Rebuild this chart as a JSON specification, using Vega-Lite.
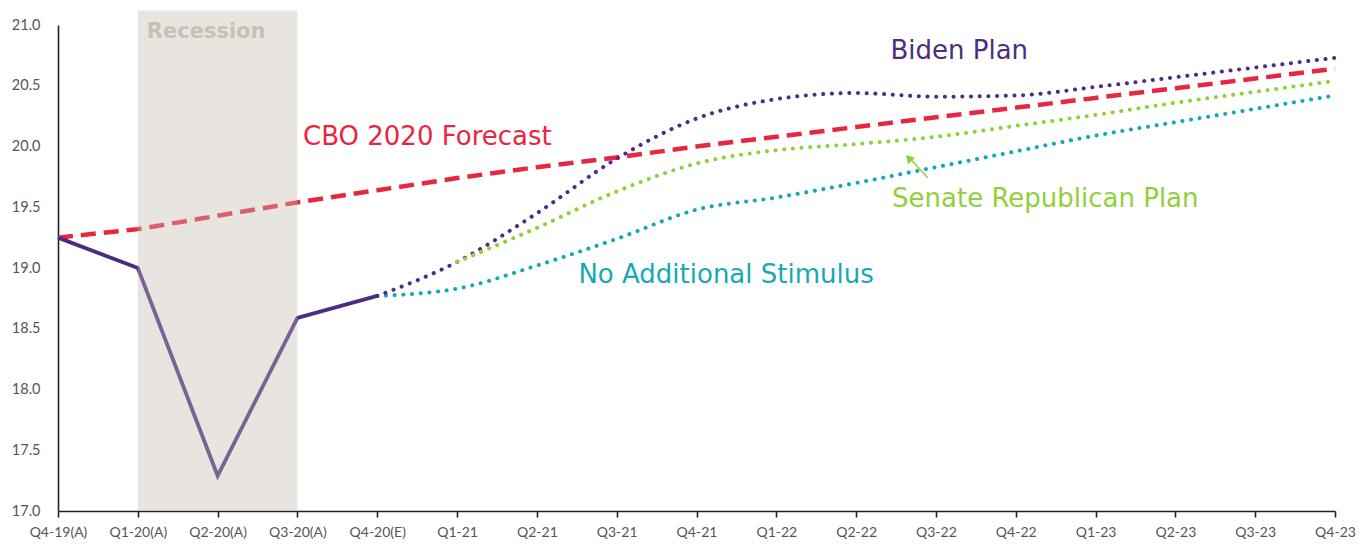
{
  "$schema": "https://vega.github.io/schema/vega-lite/v6.json",
  "width": 1277,
  "height": 486,
  "autosize": {"type": "none"},
  "padding": {"left": 58, "top": 25, "right": 36, "bottom": 33},
  "background": "white",
  "config": {"view": {"stroke": null}, "font": "Lato"},
  "datasets": {
    "series": [
      {"series": "CBO 2020 Forecast", "i": 0, "v": 19.25},
      {"series": "CBO 2020 Forecast", "i": 1, "v": 19.32},
      {"series": "CBO 2020 Forecast", "i": 2, "v": 19.43},
      {"series": "CBO 2020 Forecast", "i": 3, "v": 19.54},
      {"series": "CBO 2020 Forecast", "i": 4, "v": 19.64},
      {"series": "CBO 2020 Forecast", "i": 5, "v": 19.74},
      {"series": "CBO 2020 Forecast", "i": 6, "v": 19.83},
      {"series": "CBO 2020 Forecast", "i": 7, "v": 19.91},
      {"series": "CBO 2020 Forecast", "i": 8, "v": 20.0},
      {"series": "CBO 2020 Forecast", "i": 9, "v": 20.08},
      {"series": "CBO 2020 Forecast", "i": 10, "v": 20.16},
      {"series": "CBO 2020 Forecast", "i": 11, "v": 20.24},
      {"series": "CBO 2020 Forecast", "i": 12, "v": 20.32},
      {"series": "CBO 2020 Forecast", "i": 13, "v": 20.40},
      {"series": "CBO 2020 Forecast", "i": 14, "v": 20.48},
      {"series": "CBO 2020 Forecast", "i": 15, "v": 20.56},
      {"series": "CBO 2020 Forecast", "i": 16, "v": 20.64},
      {"series": "Actual", "i": 0, "v": 19.25},
      {"series": "Actual", "i": 1, "v": 19.0},
      {"series": "Actual", "i": 2, "v": 17.29},
      {"series": "Actual", "i": 3, "v": 18.59},
      {"series": "Actual", "i": 4, "v": 18.77},
      {"series": "No Additional Stimulus", "i": 4, "v": 18.77},
      {"series": "No Additional Stimulus", "i": 5, "v": 18.83},
      {"series": "No Additional Stimulus", "i": 6, "v": 19.02},
      {"series": "No Additional Stimulus", "i": 7, "v": 19.24},
      {"series": "No Additional Stimulus", "i": 8, "v": 19.48},
      {"series": "No Additional Stimulus", "i": 9, "v": 19.58},
      {"series": "No Additional Stimulus", "i": 10, "v": 19.70},
      {"series": "No Additional Stimulus", "i": 11, "v": 19.83},
      {"series": "No Additional Stimulus", "i": 12, "v": 19.96},
      {"series": "No Additional Stimulus", "i": 13, "v": 20.09},
      {"series": "No Additional Stimulus", "i": 14, "v": 20.20},
      {"series": "No Additional Stimulus", "i": 15, "v": 20.31},
      {"series": "No Additional Stimulus", "i": 16, "v": 20.42},
      {"series": "Biden Plan", "i": 4, "v": 18.77},
      {"series": "Biden Plan", "i": 5, "v": 19.05},
      {"series": "Biden Plan", "i": 6, "v": 19.45},
      {"series": "Biden Plan", "i": 7, "v": 19.90},
      {"series": "Biden Plan", "i": 8, "v": 20.23},
      {"series": "Biden Plan", "i": 9, "v": 20.39},
      {"series": "Biden Plan", "i": 10, "v": 20.44},
      {"series": "Biden Plan", "i": 11, "v": 20.41},
      {"series": "Biden Plan", "i": 12, "v": 20.42},
      {"series": "Biden Plan", "i": 13, "v": 20.49},
      {"series": "Biden Plan", "i": 14, "v": 20.57},
      {"series": "Biden Plan", "i": 15, "v": 20.65},
      {"series": "Biden Plan", "i": 16, "v": 20.73},
      {"series": "Senate Republican Plan", "i": 5, "v": 19.05},
      {"series": "Senate Republican Plan", "i": 6, "v": 19.33},
      {"series": "Senate Republican Plan", "i": 7, "v": 19.63},
      {"series": "Senate Republican Plan", "i": 8, "v": 19.86},
      {"series": "Senate Republican Plan", "i": 9, "v": 19.97},
      {"series": "Senate Republican Plan", "i": 10, "v": 20.02},
      {"series": "Senate Republican Plan", "i": 11, "v": 20.08},
      {"series": "Senate Republican Plan", "i": 12, "v": 20.17},
      {"series": "Senate Republican Plan", "i": 13, "v": 20.26},
      {"series": "Senate Republican Plan", "i": 14, "v": 20.36},
      {"series": "Senate Republican Plan", "i": 15, "v": 20.45},
      {"series": "Senate Republican Plan", "i": 16, "v": 20.54}
    ],
    "labels": [
      {"series": "Biden Plan", "i": 10.43, "v": 20.79},
      {"series": "CBO 2020 Forecast", "i": 3.07, "v": 20.08},
      {"series": "Senate Republican Plan", "i": 10.45, "v": 19.57},
      {"series": "No Additional Stimulus", "i": 6.52, "v": 18.94}
    ]
  },
  "encoding": {
    "x": {
      "field": "i", "type": "quantitative",
      "scale": {"domain": [0, 16], "nice": false, "zero": false},
      "axis": {
        "title": null, "grid": false,
        "values": [0,1,2,3,4,5,6,7,8,9,10,11,12,13,14,15,16],
        "labelExpr": "['Q4-19(A)','Q1-20(A)','Q2-20(A)','Q3-20(A)','Q4-20(E)','Q1-21','Q2-21','Q3-21','Q4-21','Q1-22','Q2-22','Q3-22','Q4-22','Q1-23','Q2-23','Q3-23','Q4-23'][datum.value]",
        "domainColor": "#222", "domainWidth": 1.6,
        "tickColor": "#222", "tickWidth": 1.6, "tickSize": 6,
        "labelColor": "#555", "labelFontSize": 14, "labelPadding": 8,
        "labelFont": "Lato", "labelFlush": false, "labelOverlap": false
      }
    },
    "y": {
      "field": "v", "type": "quantitative",
      "scale": {"domain": [17, 21], "nice": false, "zero": false},
      "axis": {
        "title": null, "grid": false,
        "values": [17, 17.5, 18, 18.5, 19, 19.5, 20, 20.5, 21],
        "format": ".1f",
        "domainColor": "#222", "domainWidth": 1.6,
        "ticks": false, "tickSize": 0,
        "labelColor": "#555", "labelFontSize": 14.5, "labelPadding": 18,
        "labelFont": "Lato"
      }
    },
    "color": {
      "field": "series", "type": "nominal", "legend": null,
      "scale": {
        "domain": ["Actual", "Biden Plan", "CBO 2020 Forecast", "Senate Republican Plan", "No Additional Stimulus"],
        "range": ["#4B2D83", "#4B2D83", "#E8263F", "#90D03A", "#17A8B4"]
      }
    }
  },
  "layer": [
    {
      "data": {"name": "series"},
      "transform": [{"filter": "datum.series === 'CBO 2020 Forecast'"}],
      "mark": {"type": "line", "strokeWidth": 4.5, "strokeDash": [15, 8]}
    },
    {
      "data": {"name": "series"},
      "transform": [{"filter": "datum.series === 'No Additional Stimulus'"}],
      "mark": {"type": "line", "strokeWidth": 4, "strokeDash": [0.1, 8.6], "strokeCap": "round", "interpolate": "monotone"}
    },
    {
      "data": {"name": "series"},
      "transform": [{"filter": "datum.series === 'Biden Plan'"}],
      "mark": {"type": "line", "strokeWidth": 4, "strokeDash": [0.1, 8.6], "strokeCap": "round", "interpolate": "monotone"}
    },
    {
      "data": {"name": "series"},
      "transform": [{"filter": "datum.series === 'Senate Republican Plan'"}],
      "mark": {"type": "line", "strokeWidth": 4, "strokeDash": [0.1, 8.6], "strokeCap": "round", "interpolate": "monotone"}
    },
    {
      "data": {"name": "series"},
      "transform": [{"filter": "datum.series === 'Actual'"}],
      "mark": {"type": "line", "strokeWidth": 3.8}
    },
    {
      "data": {"values": [{"start": 1, "end": 3, "lo": 17, "hi": 21.12}]},
      "mark": {"type": "rect", "color": "#C4BCAF", "opacity": 0.39},
      "encoding": {
        "x": {"field": "start", "type": "quantitative"},
        "x2": {"field": "end"},
        "y": {"field": "lo", "type": "quantitative"},
        "y2": {"field": "hi"},
        "color": {"value": "#C4BCAF"}
      }
    },
    {
      "data": {"values": [{"text": "Recession", "i": 1, "v": 20.94}]},
      "mark": {"type": "text", "align": "left", "baseline": "middle", "dx": 9, "fontSize": 21, "fontWeight": "bold", "font": "DejaVu Sans", "color": "#C9C0B3"},
      "encoding": {
        "x": {"field": "i", "type": "quantitative"},
        "y": {"field": "v", "type": "quantitative"},
        "text": {"field": "text"},
        "color": {"value": "#C9C0B3"}
      }
    },
    {
      "data": {"name": "labels"},
      "mark": {"type": "text", "align": "left", "baseline": "middle", "fontSize": 26, "font": "DejaVu Sans"},
      "encoding": {
        "text": {"field": "series"}
      }
    },
    {
      "data": {"values": [{"series": "Senate Republican Plan", "i": 10.90, "v": 19.74, "i2": 10.65, "v2": 19.92}]},
      "mark": {"type": "rule", "strokeWidth": 1.5},
      "encoding": {
        "x2": {"field": "i2"},
        "y2": {"field": "v2"}
      }
    },
    {
      "data": {"values": [{"series": "Senate Republican Plan", "i": 10.66, "v": 19.905}]},
      "mark": {"type": "point", "shape": "triangle-up", "filled": true, "size": 90, "angle": 317, "opacity": 1}
    }
  ]
}
